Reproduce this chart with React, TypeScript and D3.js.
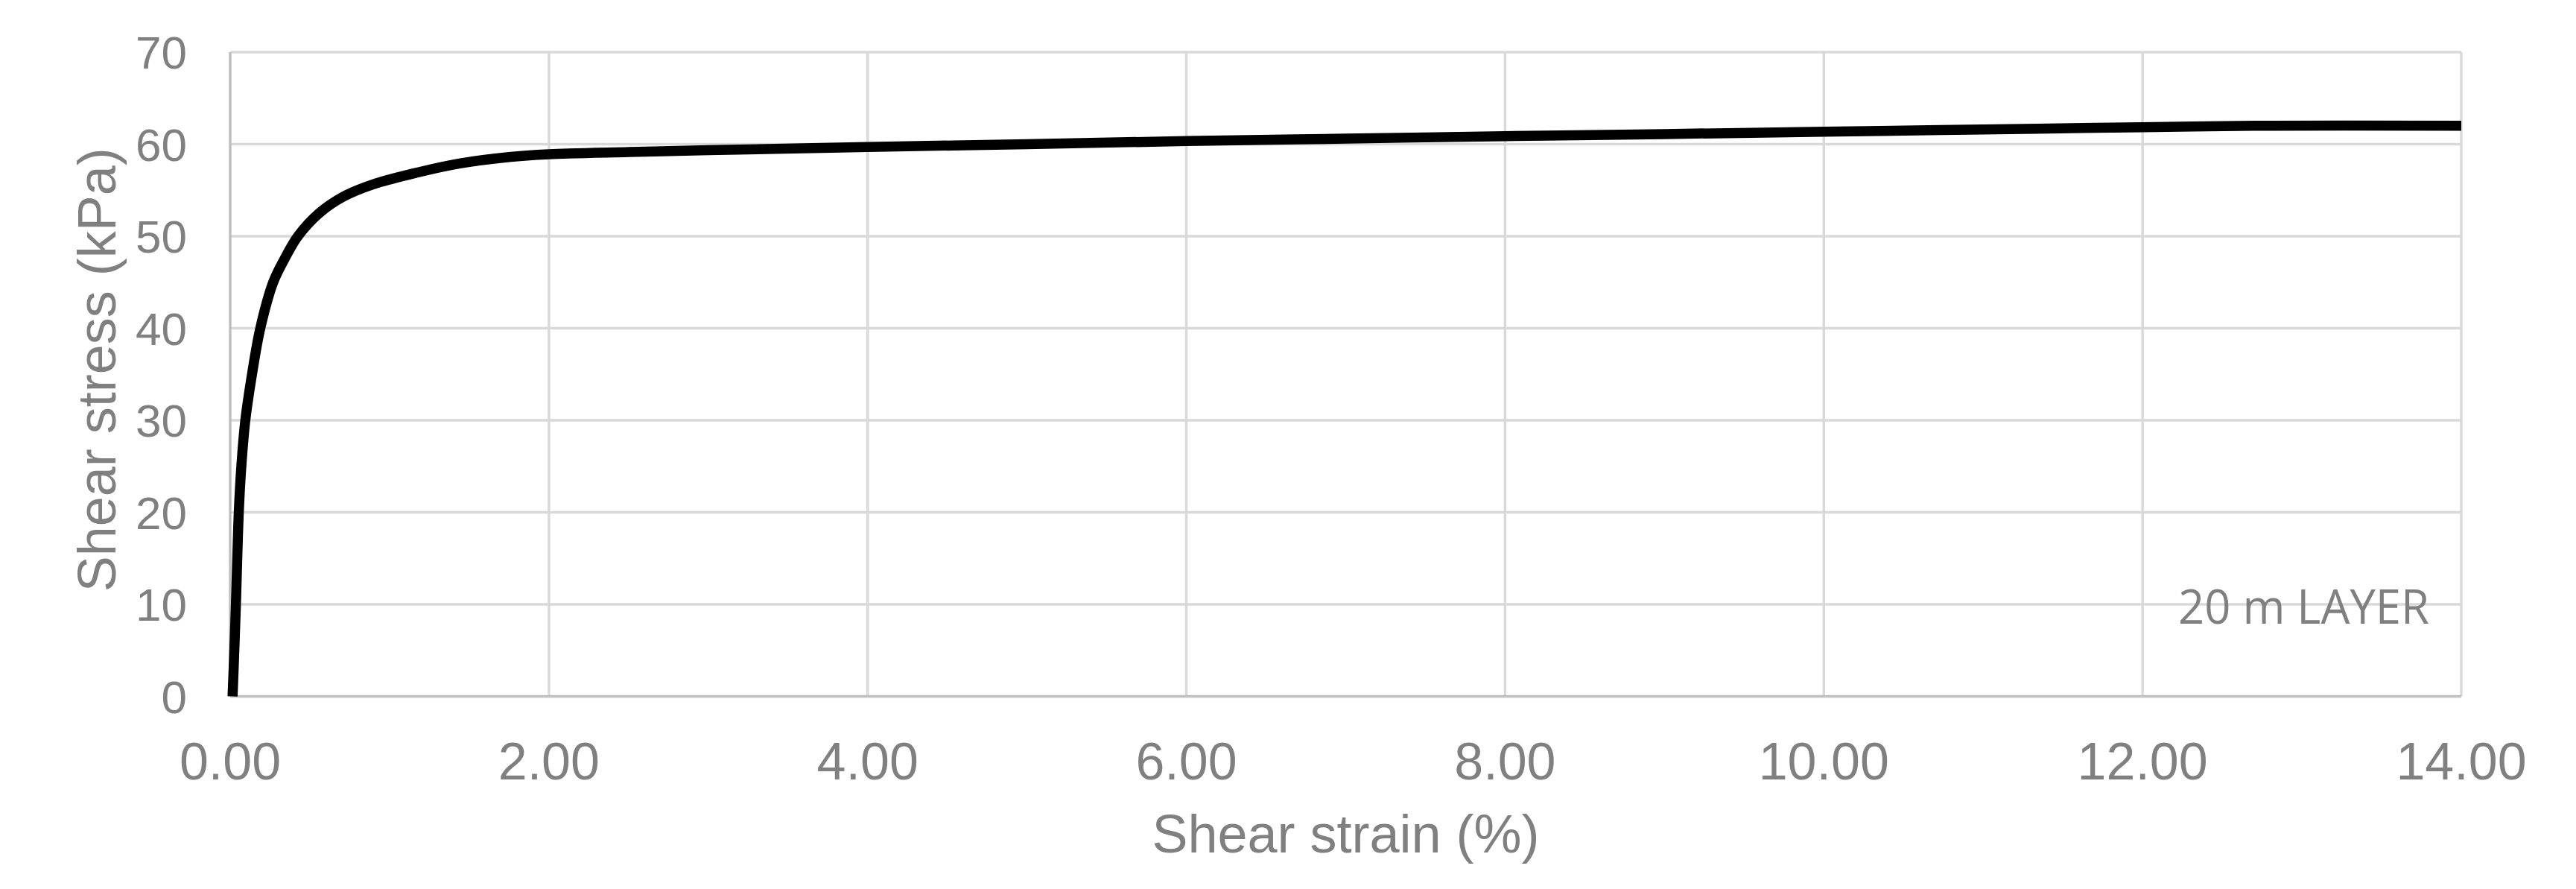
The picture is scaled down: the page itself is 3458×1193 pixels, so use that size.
import React, { useEffect } from "react";
import * as d3 from "d3";

// Data
const strainPct = [0.015, 0.026, 0.036, 0.054, 0.07, 0.095, 0.137, 0.189, 0.27, 0.34, 0.425, 0.558, 0.71, 0.89, 1.17, 1.44, 1.75, 2.0, 2.5, 3.0, 4.0, 5.0, 6.0, 7.0, 8.0, 9.0, 10.0, 11.0, 12.0, 12.7, 14.0];
const stressKPa = [0, 5, 10, 20, 25, 30, 35, 40, 45, 47.5, 50, 52.5, 54.3, 55.6, 56.9, 57.9, 58.6, 58.9, 59.15, 59.35, 59.7, 60.0, 60.34, 60.6, 60.88, 61.1, 61.36, 61.6, 61.85, 62.0, 62.0];
const xTicks = [0, 2, 4, 6, 8, 10, 12, 14];
const yTicks = [0, 10, 20, 30, 40, 50, 60, 70];
const xTitle = "Shear strain (%)";
const yTitle = "Shear stress (kPa)";
const annotation = "20 m LAYER";

const W = 3458;
const H = 1193;
const M = { left: 309, right: 3304, top: 70, bottom: 934.5 };
const TEXT = "#808080";
const GRID = "#d9d9d9";
const AXIS = "#bfbfbf";
const FONT = "'Liberation Sans', Arial, sans-serif";

export default function App() {
  useEffect(() => {
    document.body.style.margin = "0";
  }, []);

  const x = d3.scaleLinear().domain([0, 14]).range([M.left, M.right]);
  const y = d3.scaleLinear().domain([0, 70]).range([M.bottom, M.top]);

  const pts: [number, number][] = strainPct.map((s, i) => [s, stressKPa[i]]);
  const line = d3
    .line<[number, number]>()
    .x((d) => x(d[0]))
    .y((d) => y(d[1]))
    .curve(d3.curveCatmullRom.alpha(0.5));

  return (
    <svg
      width={W}
      height={H}
      viewBox={`0 0 ${W} ${H}`}
      style={{ display: "block", position: "absolute", left: 0, top: 0, background: "#fff" }}
    >
      <rect x={0} y={0} width={W} height={H} fill="#fff" />
      {/* horizontal gridlines */}
      {yTicks.filter((t) => t !== 0).map((t) => (
        <line key={"gy" + t} x1={M.left} x2={M.right} y1={y(t)} y2={y(t)} stroke={GRID} strokeWidth={3.5} />
      ))}
      {/* vertical gridlines */}
      {xTicks.filter((t) => t !== 0).map((t) => (
        <line key={"gx" + t} x1={x(t)} x2={x(t)} y1={M.top} y2={M.bottom} stroke={GRID} strokeWidth={3.5} />
      ))}
      {/* axes */}
      <line x1={M.left} x2={M.left} y1={M.top} y2={M.bottom} stroke={AXIS} strokeWidth={3.5} />
      <line x1={M.left} x2={M.right} y1={M.bottom} y2={M.bottom} stroke={AXIS} strokeWidth={3.5} />

      {/* series */}
      <path d={line(pts) || ""} fill="none" stroke="#000" strokeWidth={13.5} strokeLinejoin="round" />

      {/* y tick labels */}
      {yTicks.map((t) => (
        <text key={"ty" + t} x={251} y={y(t)} dy="0.355em" textAnchor="end" fill={TEXT} fontFamily={FONT} fontSize={62}>
          {t}
        </text>
      ))}
      {/* x tick labels */}
      {xTicks.map((t) => (
        <text key={"tx" + t} x={x(t)} y={1046} textAnchor="middle" fill={TEXT} fontFamily={FONT} fontSize={70}>
          {d3.format(".2f")(t)}
        </text>
      ))}
      {/* axis titles */}
      <text x={(M.left + M.right) / 2} y={1144} textAnchor="middle" fill={TEXT} fontFamily={FONT} fontSize={72}>
        {xTitle}
      </text>
      <text
        transform={`translate(155, ${(M.top + M.bottom) / 2 - 6}) rotate(-90)`}
        textAnchor="middle"
        fill={TEXT}
        fontFamily={FONT}
        fontSize={72}
      >
        {yTitle}
      </text>
      {/* annotation */}
      <text
        x={3261}
        y={836.5}
        textAnchor="end"
        fill={TEXT}
        fontFamily="'Open Sans', sans-serif"
        fontSize={64}
        textLength={337}
        lengthAdjust="spacingAndGlyphs"
      >
        {annotation}
      </text>
    </svg>
  );
}
